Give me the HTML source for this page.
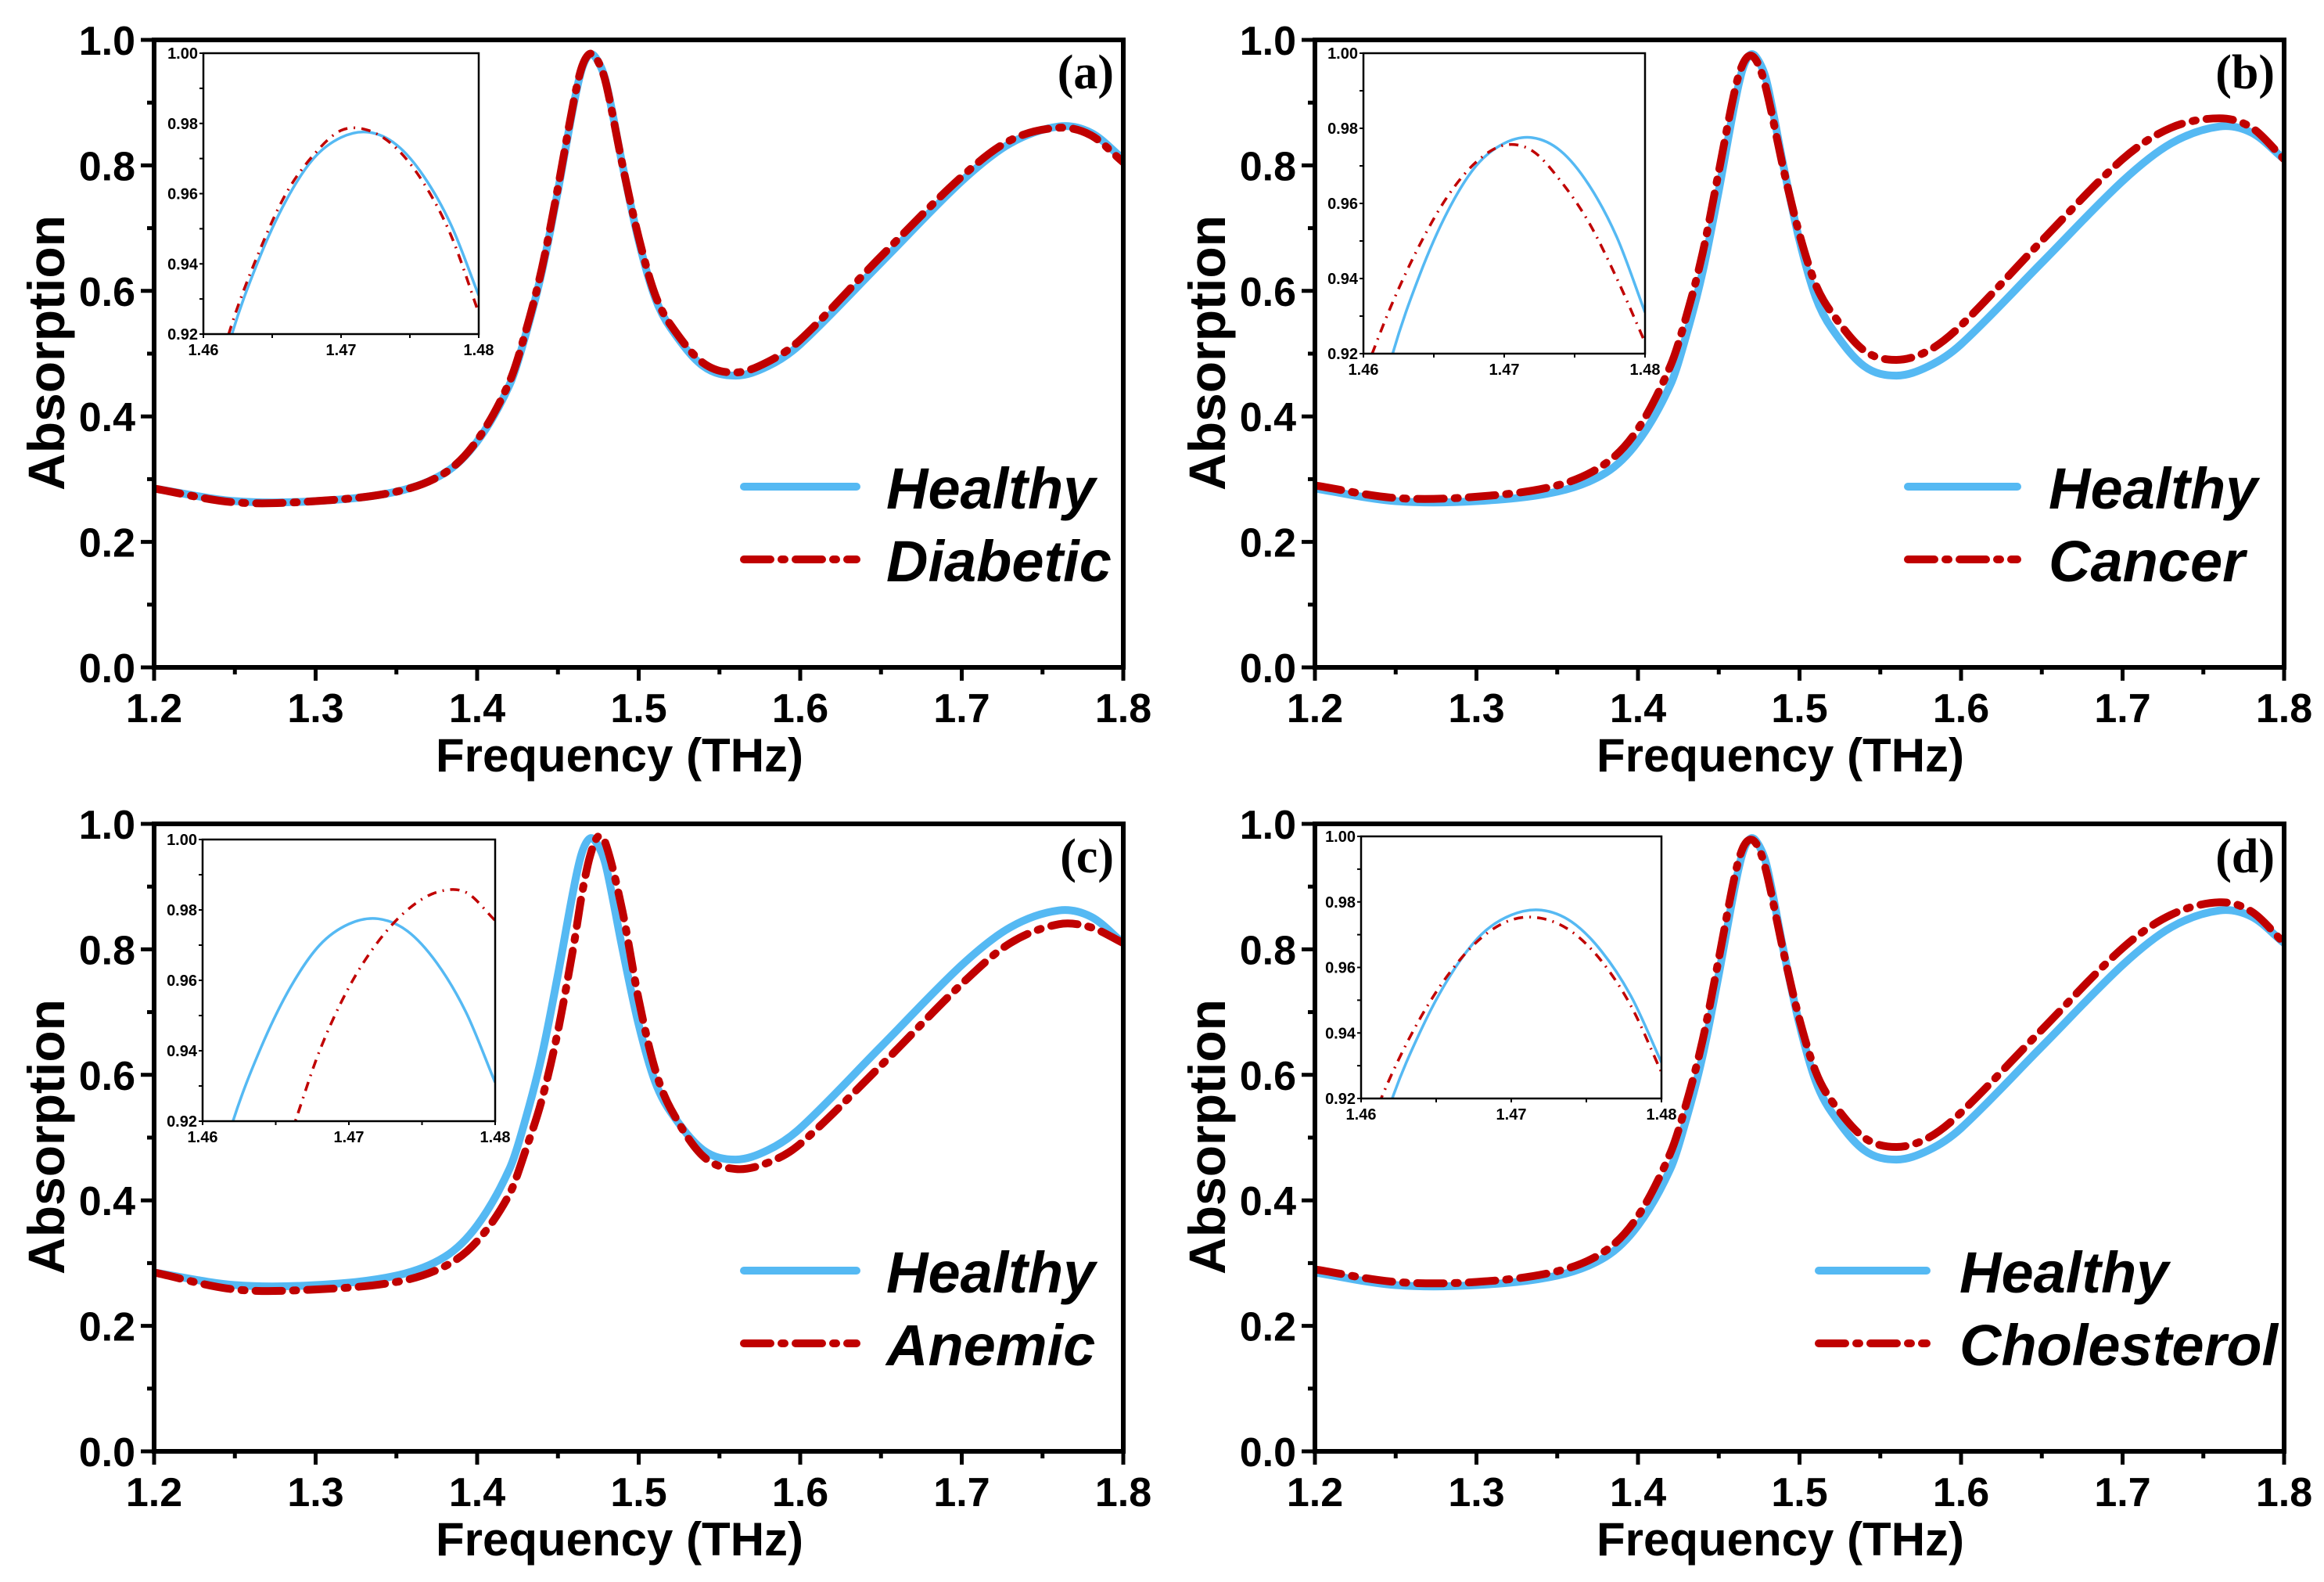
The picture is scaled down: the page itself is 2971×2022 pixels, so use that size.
<!DOCTYPE html>
<html><head><meta charset="utf-8"><style>
html,body{margin:0;padding:0;background:#fff;}
svg{display:block;}
.tk{font-family:"Liberation Sans Narrow","Liberation Sans",sans-serif;font-weight:bold;}
</style></head><body>
<svg id="fig" xmlns="http://www.w3.org/2000/svg" width="2971" height="2022" viewBox="0 0 2971 2022"></svg>
<script>
// ---- data ----
const freq = [1.2,1.25,1.3,1.35,1.38,1.4,1.42,1.43,1.44,1.45,1.46,1.465,1.47,1.475,1.48,1.49,1.5,1.51,1.52,1.54,1.56,1.58,1.6,1.65,1.7,1.73,1.76,1.78,1.8];
const healthy = [0.285,0.265,0.265,0.28,0.31,0.36,0.45,0.53,0.63,0.76,0.90,0.955,0.977,0.965,0.93,0.80,0.68,0.59,0.54,0.48,0.465,0.48,0.515,0.645,0.775,0.835,0.862,0.852,0.81];
const diabetic = [0.285,0.263,0.265,0.28,0.31,0.362,0.455,0.535,0.635,0.765,0.905,0.958,0.978,0.965,0.928,0.80,0.685,0.595,0.545,0.485,0.47,0.487,0.522,0.655,0.782,0.84,0.86,0.848,0.805];
const cancer = [0.29,0.27,0.272,0.29,0.325,0.38,0.48,0.56,0.66,0.79,0.92,0.962,0.975,0.958,0.915,0.795,0.69,0.61,0.565,0.505,0.49,0.505,0.545,0.68,0.81,0.86,0.875,0.86,0.81];
const anemic = [0.285,0.258,0.258,0.27,0.295,0.335,0.41,0.48,0.56,0.67,0.81,0.89,0.95,0.98,0.965,0.86,0.72,0.61,0.545,0.47,0.45,0.46,0.49,0.615,0.745,0.81,0.84,0.835,0.81];
const cholesterol = [0.29,0.27,0.27,0.287,0.32,0.375,0.475,0.555,0.655,0.785,0.918,0.962,0.975,0.96,0.918,0.797,0.688,0.605,0.558,0.5,0.485,0.5,0.54,0.672,0.802,0.855,0.875,0.86,0.81];
const xTicks = [1.2,1.3,1.4,1.5,1.6,1.7,1.8];
const xTickLabels = ["1.2","1.3","1.4","1.5","1.6","1.7","1.8"];
const yTicks = [0,0.2,0.4,0.6,0.8,1.0];
const yTickLabels = ["0.0","0.2","0.4","0.6","0.8","1.0"];
// inset data
const inFreq = [1.46,1.462,1.464,1.466,1.468,1.47,1.472,1.474,1.476,1.478,1.48];
const inHealthy = [0.888,0.919,0.941,0.958,0.97,0.976,0.9775,0.974,0.965,0.951,0.931];
const inDiabetic = [0.894,0.922,0.943,0.960,0.971,0.978,0.978,0.973,0.963,0.948,0.926];
const inCancer = [0.914,0.933,0.949,0.962,0.971,0.9755,0.974,0.966,0.955,0.94,0.923];
const inAnemic = [0.84,0.868,0.894,0.916,0.94,0.958,0.971,0.98,0.985,0.985,0.977];
const inCholesterol = [0.905,0.927,0.945,0.959,0.969,0.9745,0.975,0.971,0.962,0.948,0.928];
const inXTicks = [1.46,1.47,1.48];
const inXTickLabels = ["1.46","1.47","1.48"];
const inYTicks = [0.92,0.94,0.96,0.98,1.0];
const inYTickLabels = ["0.92","0.94","0.96","0.98","1.00"];

const NS = "http://www.w3.org/2000/svg";
const svg = document.getElementById('fig');
function mk(tag, attrs, parent){
  const e = document.createElementNS(NS, tag);
  for (const k in attrs) e.setAttribute(k, attrs[k]);
  (parent||svg).appendChild(e);
  return e;
}
function smooth(pts){
  const n = pts.length;
  const m = pts.map((p,i)=>{
    const a = pts[Math.max(0,i-1)], b = pts[Math.min(n-1,i+1)];
    return (b[1]-a[1])/(b[0]-a[0]);
  });
  let d = "M"+pts[0][0].toFixed(1)+","+pts[0][1].toFixed(1);
  for (let i=0;i<n-1;i++){
    const p1=pts[i], p2=pts[i+1], h=(p2[0]-p1[0])/3;
    const c1x=p1[0]+h, c1y=p1[1]+m[i]*h;
    const c2x=p2[0]-h, c2y=p2[1]-m[i+1]*h;
    d += " C"+c1x.toFixed(1)+","+c1y.toFixed(1)+" "+c2x.toFixed(1)+","+c2y.toFixed(1)+" "+p2[0].toFixed(1)+","+p2[1].toFixed(1);
  }
  return d;
}
const BLUE="#55b9f3", RED="#c00000";
const panels = [
  {id:"a", x0:197, y0:51, other:diabetic, name:"Diabetic", inOther:inDiabetic, inset:[260,68,612,427], leg:[951,1095,1133,622]},
  {id:"b", x0:1681, y0:51, other:cancer, name:"Cancer", inOther:inCancer, inset:[1743,68,2103,452], leg:[2439,2579,2619,622]},
  {id:"c", x0:197, y0:1053, other:anemic, name:"Anemic", inOther:inAnemic, inset:[259,1073,633,1433], leg:[951,1095,1133,1624]},
  {id:"d", x0:1681, y0:1053, other:cholesterol, name:"Cholesterol", inOther:inCholesterol, inset:[1740,1069,2124,1404], leg:[2325,2463,2505,1624]}
];
const W=1239, H=802;
panels.forEach(p=>{
  const g = mk('g',{});
  
  
  const sx = v => p.x0 + (v-1.2)/0.6*W;
  const sy = v => p.y0 + H - v*H;
  const cp = mk('clipPath',{id:'clip'+p.id},g);
  mk('rect',{x:p.x0,y:p.y0,width:W,height:H},cp);
  const hp = mk('path',{d:smooth(freq.map((f,i)=>[sx(f),sy(healthy[i])])),fill:'none',stroke:BLUE,'stroke-width':10,'clip-path':'url(#clip'+p.id+')'},g);
  
  
  const op = mk('path',{d:smooth(freq.map((f,i)=>[sx(f),sy(p.other[i])])),fill:'none',stroke:RED,'stroke-width':10,'stroke-dasharray':'34,14,4,14','stroke-linecap':'round','clip-path':'url(#clip'+p.id+')'},g);
  
  
  const bx = mk('rect',{x:p.x0,y:p.y0,width:W,height:H,fill:'none',stroke:'#000','stroke-width':6},g);
  
  
  for (let v=1.2; v<=1.8001; v+=0.05){
    const major = Math.abs(Math.round(v*10)-v*10)<1e-6;
    mk('line',{x1:sx(v),x2:sx(v),y1:p.y0+H,y2:p.y0+H+(major?17:9),stroke:'#000','stroke-width':5},g);
  }
  xTicks.forEach((v,i)=>{
    const t = mk('text',{x:sx(v),y:p.y0+H+70,'text-anchor':'middle','font-size':52,class:'tk'},g);
    t.textContent = xTickLabels[i];
    
    
  });
  for (let v=0; v<=1.0001; v+=0.1){
    const major = Math.abs(Math.round(v*5)-v*5)<1e-6;
    mk('line',{x1:p.x0,x2:p.x0-(major?17:9),y1:sy(v),y2:sy(v),stroke:'#000','stroke-width':5},g);
  }
  yTicks.forEach((v,i)=>{
    const t = mk('text',{x:p.x0-24,y:sy(v)+19,'text-anchor':'end','font-size':52,class:'tk'},g);
    t.textContent = yTickLabels[i];
    
    
  });
  const xt = mk('text',{x:p.x0+595,y:p.y0+H+133,'text-anchor':'middle','font-size':60,class:'tk'},g);
  xt.textContent='Frequency (THz)';
  
  
  const yt = mk('text',{x:0,y:0,'text-anchor':'middle','font-size':66,class:'tk',transform:'translate('+(p.x0-115)+','+(p.y0+400)+') rotate(-90)'},g);
  yt.textContent='Absorption';
  
  
  const pl = mk('text',{x:p.x0+W-12,y:p.y0+62,'text-anchor':'end','font-size':62,'font-weight':'bold','font-family':'"Liberation Serif",serif'},g);
  pl.textContent='('+p.id+')';
  
  
  const L=p.leg;
  const lg = mk('g',{},g);
  
  
  mk('line',{x1:L[0],x2:L[1],y1:L[3],y2:L[3],stroke:BLUE,'stroke-width':10,'stroke-linecap':'round'},lg);
  mk('line',{x1:L[0],x2:L[1],y1:L[3]+93,y2:L[3]+93,stroke:RED,'stroke-width':10,'stroke-dasharray':'34,14,4,14','stroke-linecap':'round'},lg);
  const l1 = mk('text',{x:L[2],y:L[3]+28,'font-size':74,'font-style':'italic',class:'tk'},lg);
  l1.textContent='Healthy';
  
  
  const l2 = mk('text',{x:L[2],y:L[3]+121,'font-size':74,'font-style':'italic',class:'tk'},lg);
  l2.textContent=p.name;
  
  
  const I=p.inset;
  const ig = mk('g',{},g);
  
  
  const ix = v => I[0] + (v-1.46)/0.02*(I[2]-I[0]);
  const iy = v => I[3] - (v-0.92)/0.08*(I[3]-I[1]);
  mk('rect',{x:I[0],y:I[1],width:I[2]-I[0],height:I[3]-I[1],fill:'#fff'},ig);
  const icp = mk('clipPath',{id:'iclip'+p.id},ig);
  mk('rect',{x:I[0],y:I[1],width:I[2]-I[0],height:I[3]-I[1]},icp);
  const ih = mk('path',{d:smooth(inFreq.map((f,i)=>[ix(f),iy(inHealthy[i])])),fill:'none',stroke:BLUE,'stroke-width':3.5,'clip-path':'url(#iclip'+p.id+')'},ig);
  
  
  const io = mk('path',{d:smooth(inFreq.map((f,i)=>[ix(f),iy(p.inOther[i])])),fill:'none',stroke:RED,'stroke-width':3.5,'stroke-dasharray':'12,8,2,8','clip-path':'url(#iclip'+p.id+')'},ig);
  
  
  mk('rect',{x:I[0],y:I[1],width:I[2]-I[0],height:I[3]-I[1],fill:'none',stroke:'#000','stroke-width':2.5},ig);
  for (let v=1.46; v<=1.48001; v+=0.005){
    mk('line',{x1:ix(v),x2:ix(v),y1:I[3],y2:I[3]+5,stroke:'#000','stroke-width':2},ig);
  }
  for (let v=0.92; v<=1.0001; v+=0.01){
    mk('line',{x1:I[0],x2:I[0]-5,y1:iy(v),y2:iy(v),stroke:'#000','stroke-width':2},ig);
  }
  inXTicks.forEach((v,i)=>{
    const t = mk('text',{x:ix(v),y:I[3]+27,'text-anchor':'middle','font-size':20,class:'tk'},ig);
    t.textContent=inXTickLabels[i];
    
    
  });
  inYTicks.forEach((v,i)=>{
    const t = mk('text',{x:I[0]-7,y:iy(v)+7,'text-anchor':'end','font-size':20,class:'tk'},ig);
    t.textContent=inYTickLabels[i];
    
    
  });
});
</script>
</body></html>
